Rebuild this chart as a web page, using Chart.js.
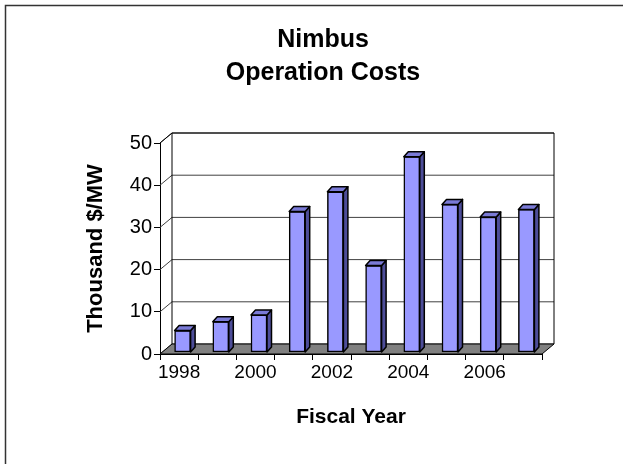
<!DOCTYPE html>
<html>
<head>
<meta charset="utf-8">
<script src="https://cdn.jsdelivr.net/npm/chart.js@4.4.1/dist/chart.umd.min.js"></script>
<style>
  html, body { margin: 0; padding: 0; background: #fff; }
  canvas { display: block; }
</style>
</head>
<body>
<canvas id="costChart" width="623" height="464"></canvas>
<script>
/*************************************************
 * DATA
 *************************************************/
const YEARS = ["1998", "1999", "2000", "2001", "2002", "2003", "2004", "2005", "2006", "2007"];
const COSTS = [5.2, 7.3, 8.9, 33.4, 38.1, 20.6, 46.4, 35.1, 32.1, 33.9];
const Y_TICKS = [0, 10, 20, 30, 40, 50];
const TITLE_LINES = ["Nimbus", "Operation Costs"];
const X_TITLE = "Fiscal Year";
const Y_TITLE = "Thousand $/MW";

/*************************************************
 * LOOK
 *************************************************/
const FONT = "'Liberation Sans', Arial, sans-serif";
const WALL_DX = 12, WALL_DY = -10;     // back wall offset
const BAR_DX = 3.5, BAR_DY = -1.5;     // bars sit a bit inside the floor
const DEPTH_DX = 4.5, DEPTH_DY = -5;   // bar depth
const FRONT = "#9999FF", SIDE = "#4D4D99", TOP = "#7A7AD6";

/*************************************************
 * 3D DECOR PLUGIN
 *************************************************/
const decor3d = {
  id: "decor3d",
  beforeDraw(chart) {
    const c = chart.ctx;
    c.save();
    c.fillStyle = "#fff";
    c.fillRect(0, 0, chart.width, chart.height);
    // frame (top + left only)
    c.strokeStyle = "#333";
    c.lineWidth = 1.5;
    c.beginPath();
    c.moveTo(5.5, chart.height);
    c.lineTo(5.5, 5.5);
    c.lineTo(chart.width, 5.5);
    c.stroke();
    // title
    c.fillStyle = "#000";
    c.font = "bold 25px " + FONT;
    c.textAlign = "center";
    c.textBaseline = "alphabetic";
    c.fillText(TITLE_LINES[0], 323, 47);
    c.fillText(TITLE_LINES[1], 323, 80);
    c.restore();
  },
  beforeDatasetsDraw(chart) {
    const c = chart.ctx;
    const a = chart.chartArea;
    const y = chart.scales.y;
    c.save();
    c.lineWidth = 1;
    c.strokeStyle = "#404040";
    Y_TICKS.forEach(v => {
      const py = y.getPixelForValue(v);
      c.beginPath();
      c.moveTo(a.left, py);
      c.lineTo(a.left + WALL_DX, py + WALL_DY);
      c.lineTo(a.right + WALL_DX, py + WALL_DY);
      c.stroke();
    });
    // wall edges
    c.strokeStyle = "#000";
    c.beginPath();
    c.moveTo(a.left, a.top);
    c.lineTo(a.left + WALL_DX, a.top + WALL_DY);
    c.moveTo(a.left + WALL_DX, a.bottom + WALL_DY);
    c.lineTo(a.left + WALL_DX, a.top + WALL_DY);
    c.lineTo(a.right + WALL_DX, a.top + WALL_DY);
    c.lineTo(a.right + WALL_DX, a.bottom + WALL_DY);
    c.stroke();
    // floor
    c.fillStyle = "#808080";
    c.beginPath();
    c.moveTo(a.left, a.bottom);
    c.lineTo(a.right, a.bottom);
    c.lineTo(a.right + WALL_DX, a.bottom + WALL_DY);
    c.lineTo(a.left + WALL_DX, a.bottom + WALL_DY);
    c.closePath();
    c.fill();
    c.stroke();
    c.restore();
    // bars are drawn shifted into the floor
    c.save();
    c.translate(BAR_DX, BAR_DY);
  },
  afterDatasetsDraw(chart) {
    const c = chart.ctx;
    c.lineWidth = 1.5;
    c.strokeStyle = "#000";
    c.lineJoin = "round";
    chart.getDatasetMeta(0).data.forEach(bar => {
      const p = bar.getProps(["x", "y", "base", "width"], true);
      const l = p.x - p.width / 2, r = p.x + p.width / 2;
      // side face
      c.fillStyle = SIDE;
      c.beginPath();
      c.moveTo(r, p.y);
      c.lineTo(r + DEPTH_DX, p.y + DEPTH_DY);
      c.lineTo(r + DEPTH_DX, p.base + DEPTH_DY);
      c.lineTo(r, p.base);
      c.closePath();
      c.fill();
      c.stroke();
      // top face
      c.fillStyle = TOP;
      c.beginPath();
      c.moveTo(l, p.y);
      c.lineTo(l + DEPTH_DX, p.y + DEPTH_DY);
      c.lineTo(r + DEPTH_DX, p.y + DEPTH_DY);
      c.lineTo(r, p.y);
      c.closePath();
      c.fill();
      c.stroke();
    });
    c.restore();
  }
};

/*************************************************
 * CHART
 *************************************************/
const ctx = document.getElementById("costChart");

new Chart(ctx, {
  type: "bar",
  data: {
    labels: YEARS,
    datasets: [
      {
        data: COSTS,
        backgroundColor: FRONT,
        borderColor: "#000",
        borderWidth: 1.5,
        borderSkipped: false,
        barThickness: 16
      }
    ]
  },
  options: {
    responsive: false,
    animation: false,
    events: [],
    layout: { padding: { left: 10, right: 81, top: 143, bottom: 10 } },
    plugins: {
      legend: { display: false },
      title: { display: false },
      tooltip: { enabled: false }
    },
    scales: {
      x: {
        grid: { offset: true, drawOnChartArea: false, tickLength: 6, color: "#000" },
        border: { color: "#000", width: 1 },
        ticks: {
          autoSkip: false,
          maxRotation: 0,
          color: "#000",
          padding: 1,
          font: { family: FONT, size: 19 },
          callback(v, i) {
            return i % 2 === 0 ? this.getLabelForValue(v) : "";
          }
        },
        title: {
          display: true,
          text: X_TITLE,
          color: "#000",
          font: { family: FONT, size: 21, weight: "bold" },
          padding: { top: 0, bottom: 24 }
        },
        afterFit(scale) { scale.height = 100; }
      },
      y: {
        min: 0,
        max: 50,
        grid: { drawOnChartArea: false, tickLength: 6, color: "#000" },
        border: { color: "#000", width: 1 },
        ticks: {
          stepSize: 10,
          color: "#000",
          padding: 2,
          font: { family: FONT, size: 20 }
        },
        title: {
          display: true,
          text: Y_TITLE,
          color: "#000",
          font: { family: FONT, size: 22, weight: "bold" },
          padding: { top: 73, bottom: 0 }
        },
        afterFit(scale) { scale.width = 150; }
      }
    }
  },
  plugins: [decor3d]
});
</script>
</body>
</html>
